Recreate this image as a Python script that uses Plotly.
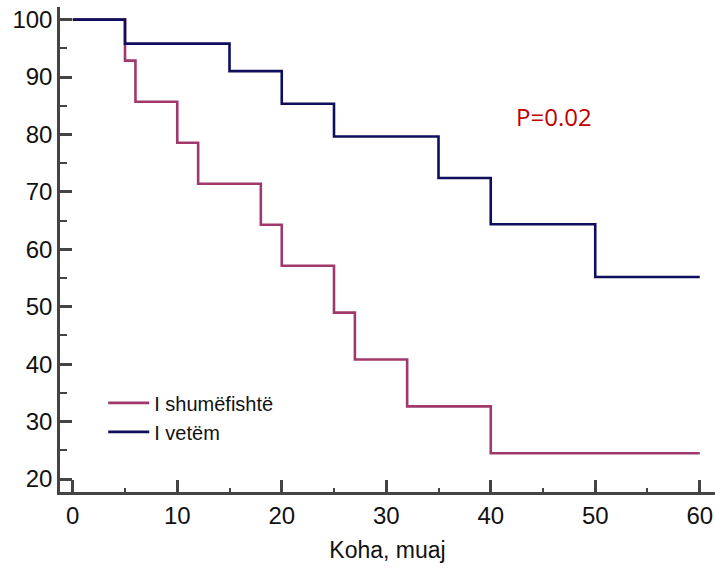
import plotly.graph_objects as go

# Kaplan-Meier survival steps (time in months, survival %)
t_multi = [0, 5, 6, 10, 12, 18, 20, 25, 27, 32, 40, 60]
s_multi = [100, 92.86, 85.71, 78.57, 71.43, 64.29, 57.14, 48.98, 40.82, 32.65, 24.49, 24.49]

t_single = [0, 5, 15, 20, 25, 35, 40, 50, 60]
s_single = [100, 95.83, 91.04, 85.35, 79.66, 72.42, 64.37, 55.18, 55.18]

name_multi = "I shumëfishtë"
name_single = "I vetëm"
x_title = "Koha, muaj"
p_text = "P=0.02"

red = "#a0386c"
navy = "#0e0e5c"
axis_col = "#444444"
font_fam = "Liberation Sans, Arial, sans-serif"

fig = go.Figure()
fig.add_trace(go.Scatter(x=t_multi, y=s_multi, mode="lines", line=dict(shape="hv", color=red, width=2.6),
                         name=name_multi))
fig.add_trace(go.Scatter(x=t_single, y=s_single, mode="lines", line=dict(shape="hv", color=navy, width=2.6),
                         name=name_single))

fig.add_annotation(x=46.06, y=83.1, xref="x", yref="y", text=p_text, showarrow=False,
                   font=dict(family="Open Sans, sans-serif", size=24, color="#c00000"))

fig.update_layout(
    width=715, height=569,
    margin=dict(l=60, r=0, t=7, b=77),
    paper_bgcolor="white", plot_bgcolor="white",
    font=dict(family=font_fam, color="#111111"),
    showlegend=True,
    legend=dict(x=0.066, y=0.224, xanchor="left", yanchor="top", bgcolor="rgba(0,0,0,0)",
                font=dict(size=20, family=font_fam, color="#111111"), tracegroupgap=0, itemwidth=41),
)
fig.update_xaxes(
    range=[-1.22, 61.46], showgrid=False, zeroline=False,
    showline=True, linecolor=axis_col, linewidth=2.5,
    tickmode="array", tickvals=[0, 10, 20, 30, 40, 50, 60],
    ticks="inside", ticklen=12, tickwidth=2.5, tickcolor=axis_col,
    tickfont=dict(size=24, family=font_fam, color="#111111"),
    minor=dict(ticks="inside", ticklen=4, tickwidth=1.5, tickcolor=axis_col, tickvals=[5, 15, 25, 35, 45, 55]),
    title=dict(text=x_title, font=dict(size=23, family=font_fam, color="#111111"), standoff=15),
)
fig.update_yaxes(
    range=[17.74, 102.2], showgrid=False, zeroline=False,
    showline=True, linecolor=axis_col, linewidth=2.5,
    tickmode="array", tickvals=[20, 30, 40, 50, 60, 70, 80, 90, 100],
    ticks="inside", ticklen=12, tickwidth=2.5, tickcolor=axis_col,
    tickfont=dict(size=24, family=font_fam, color="#111111"),
    minor=dict(ticks="inside", ticklen=7, tickwidth=1.5, tickcolor=axis_col, tickvals=[25, 35, 45, 55, 65, 75, 85, 95]),
)

fig.write_html("out.html")
